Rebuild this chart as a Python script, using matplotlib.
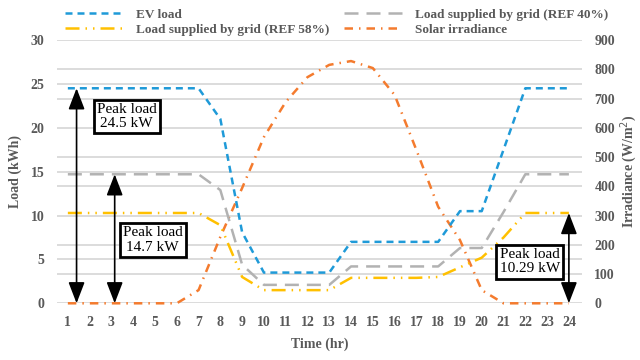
import matplotlib.pyplot as plt

plt.rcParams['font.family'] = ['Liberation Serif', 'DejaVu Serif']

hours = list(range(1, 25))
ev_load = [24.5, 24.5, 24.5, 24.5, 24.5, 24.5, 24.5, 21.0, 8.1, 3.5, 3.5, 3.5,
           3.5, 7.0, 7.0, 7.0, 7.0, 7.0, 10.5, 10.5, 17.5, 24.5, 24.5, 24.5]
grid_ref40 = [14.7, 14.7, 14.7, 14.7, 14.7, 14.7, 14.7, 12.9, 4.4, 2.1, 2.1, 2.1,
              2.1, 4.2, 4.2, 4.2, 4.2, 4.2, 6.3, 6.3, 10.4, 14.7, 14.7, 14.7]
grid_ref58 = [10.29, 10.29, 10.29, 10.29, 10.29, 10.29, 10.29, 8.9, 3.0, 1.5, 1.5, 1.5,
              1.5, 2.9, 2.9, 2.9, 2.9, 3.0, 4.1, 5.2, 7.5, 10.29, 10.29, 10.29]
solar = [0, 0, 0, 0, 0, 0, 45, 227, 394, 568, 688, 773,
         815, 828, 804, 712, 524, 330, 216, 45, 0, 0, 0, 0]

c_blue = '#1f9ad8'
c_gray = '#b2b2b2'
c_yellow = '#ffc000'
c_orange = '#f47b2e'
c_text = '#595959'
c_grid = '#d9d9d9'

fig = plt.figure(figsize=(6.4, 3.6), dpi=100)
ax = fig.add_axes([0.089, 0.1575, 0.8203, 0.7314])
ax2 = ax.twinx()

lw = 1.8
l1, = ax.plot(hours, ev_load, color=c_blue, lw=lw, dashes=(2.8, 2.0), label='EV load',
              clip_on=False)
l2, = ax.plot(hours, grid_ref40, color=c_gray, lw=lw, dashes=(5.6, 3.2),
              label='Load supplied by grid (REF 40%)', clip_on=False)
l3, = ax.plot(hours, grid_ref58, color=c_yellow, lw=lw,
              dashes=(5.6, 2.4, 0.6, 2.4, 0.6, 2.4), label='Load supplied by grid (REF 58%)',
              clip_on=False)
l4, = ax2.plot(hours, solar, color=c_orange, lw=lw, dashes=(3.4, 2.4, 0.6, 2.4),
               label='Solar irradiance', clip_on=False)

ax.set_xlim(0.5, 24.6)
ax.set_ylim(0, 30)
ax2.set_ylim(0, 900)
ax.set_xticks(hours)
ax.set_yticks(range(0, 31, 5))
ax2.set_yticks(range(0, 901, 100))
# left-axis gridlines (every 5 kWh) drawn on the right axis so all grids sit under the lines
ax2.set_yticks([v * 30 for v in range(0, 31, 5)], minor=True)

for a in (ax, ax2):
    for s in a.spines.values():
        s.set_visible(False)
    a.tick_params(which='both', length=0, colors=c_text, labelsize=10)
    for lab in a.get_xticklabels() + a.get_yticklabels():
        lab.set_fontweight('bold')
ax.tick_params(axis='y', pad=9)
ax2.tick_params(axis='y', pad=9)
ax.tick_params(axis='x', pad=9)

ax2.grid(axis='y', which='both', color=c_grid, lw=1.3)
ax2.set_axisbelow(True)
ax.set_zorder(ax2.get_zorder() + 1)
ax.patch.set_visible(False)

ax.set_xlabel('Time (hr)', fontsize=10, fontweight='bold', color=c_text, labelpad=6)
ax.set_ylabel('Load (kWh)', fontsize=10, fontweight='bold', color=c_text, labelpad=6)
ax2.set_ylabel('Irradiance (W/m$^2$)', fontsize=10, fontweight='bold', color=c_text, labelpad=2)

# peak load arrows and boxes
arrow = dict(arrowstyle='<|-|>,head_length=1.3,head_width=0.5', color='black',
             lw=1.2, shrinkA=0, shrinkB=0)
ax.annotate('', xy=(1.4, 0), xytext=(1.4, 24.5), arrowprops=arrow, fontsize=10)
ax.annotate('', xy=(3.15, 0), xytext=(3.15, 14.7), arrowprops=arrow, fontsize=10)
ax.annotate('', xy=(24, 0), xytext=(24, 10.29), arrowprops=arrow, fontsize=10)

box = dict(boxstyle='square,pad=0.2', facecolor='white', edgecolor='black', lw=2)
ax.text(3.7, 21.3, 'Peak load\n24.5 kW', ha='center', va='center', fontsize=11,
        bbox=box, linespacing=1.15)
ax.text(4.9, 7.2, 'Peak load\n14.7 kW', ha='center', va='center', fontsize=11,
        bbox=box, linespacing=1.15)
ax.text(22.2, 4.74, 'Peak load\n10.29 kW', ha='center', va='center', fontsize=11,
        bbox=box, linespacing=1.15)

handles = [l1, l3, l2, l4]
leg = fig.legend(handles, [h.get_label() for h in handles],
                 loc='upper left', bbox_to_anchor=(0.083, 1.01), ncol=2, frameon=False,
                 handlelength=4.4, handletextpad=1.0, columnspacing=1.1,
                 labelspacing=0.25, prop={'size': 9.5, 'weight': 'bold'})
for t in leg.get_texts():
    t.set_color(c_text)

fig.savefig('out.png', dpi=100)
